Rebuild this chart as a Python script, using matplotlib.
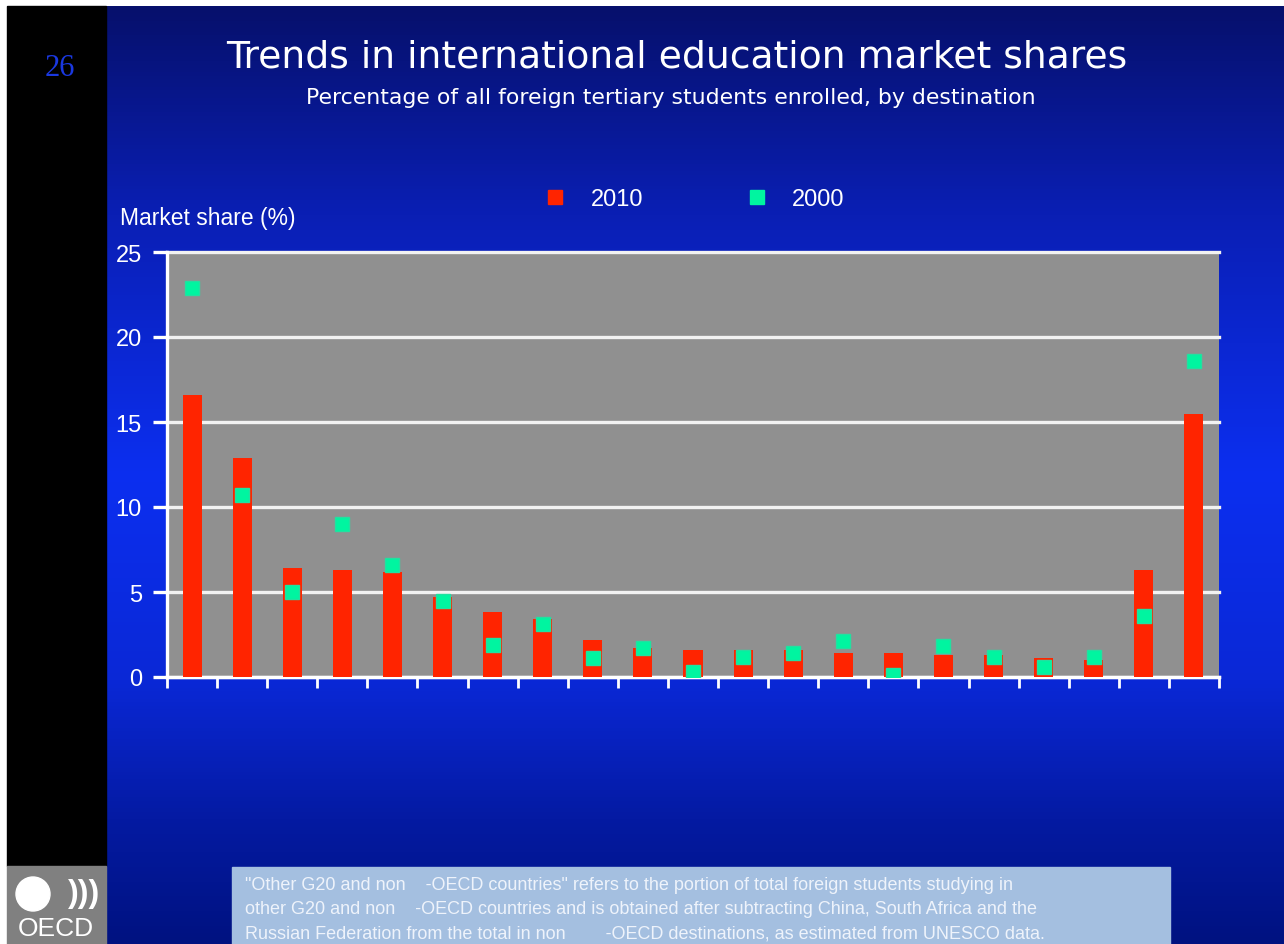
import matplotlib
matplotlib.use("Agg")
import matplotlib.pyplot as plt
import numpy as np
from matplotlib.patches import Rectangle, Ellipse
from matplotlib.lines import Line2D
from matplotlib.colors import LinearSegmentedColormap

# ---------------- data ----------------
categories = ["United States", "United Kingdom", "Australia", "Germany", "France",
              "Canada", "Russian Federation", "Japan", "Spain", "China", "Italy",
              "New Zealand", "Austria", "Korea", "South Africa", "Switzerland",
              "Netherlands", "Belgium", "Sweden", "Other OECD countries",
              "Other G20 and non-OECD countries"]
share_2010 = [16.6, 12.9, 6.4, 6.3, 6.2, 4.7, 3.8, 3.4, 2.2, 1.7, 1.6,
              1.6, 1.6, 1.4, 1.4, 1.3, 1.3, 1.1, 1.0, 6.3, 15.5]
share_2000 = [22.9, 10.7, 5.0, 9.0, 6.6, 4.5, 1.9, 3.1, 1.1, 1.7, 0.3,
              1.2, 1.4, 2.1, 0.1, 1.8, 1.2, 0.6, 1.2, 3.6, 18.6]
series_labels = ["2010", "2000"]
yticks = [0, 5, 10, 15, 20, 25]

title = "Trends in international education market shares"
subtitle = "Percentage of all foreign tertiary students enrolled, by destination"
ylabel = "Market share (%)"
note_lines = ['"Other G20 and non    -OECD countries" refers to the portion of total foreign students studying in',
              'other G20 and non    -OECD countries and is obtained after subtracting China, South Africa and the',
              'Russian Federation from the total in non        -OECD destinations, as estimated from UNESCO data.']

W, H = 1284, 945

def fx(px):
    return px / W

def fy(py):
    return 1 - py / H

sans = "Liberation Sans"

fig = plt.figure(figsize=(W / 100, H / 100), dpi=100)
fig.patch.set_facecolor("white")

# background gradient
bg = fig.add_axes([0, 0, 1, 1], zorder=-10)
cmap = LinearSegmentedColormap.from_list("bg", [
    (0.0, "#06106c"), (0.22, "#0a1fb4"), (0.5, "#0c2ff0"),
    (0.72, "#0a28d6"), (0.87, "#041aa2"), (1.0, "#001280")])
grad = np.linspace(0, 1, 256).reshape(-1, 1)
bg.imshow(grad, aspect="auto", cmap=cmap, extent=[fx(7), 1, 0, fy(7)])
bg.set_xlim(0, 1)
bg.set_ylim(0, 1)
bg.axis("off")

# left black strip and OECD logo box
fig.add_artist(Rectangle((fx(7), fy(867)), fx(106) - fx(7), fy(7) - fy(867),
                         transform=fig.transFigure, color="black", zorder=-5))
fig.add_artist(Rectangle((fx(7), 0), fx(106) - fx(7), fy(867),
                         transform=fig.transFigure, color="#808080", zorder=-5))
fig.add_artist(Ellipse((fx(33), fy(895)), 34 / W, 34 / H, transform=fig.transFigure,
                       color="white", zorder=-4))
fig.text(fx(84), fy(894), ")))", color="white", fontsize=23, fontweight="bold",
         ha="center", va="center", family=sans)
fig.text(fx(56), fy(929), "OECD", color="white", fontsize=19, ha="center",
         va="center", family=sans)

# page number
fig.text(fx(60), fy(68), "26", color="#1a38e0", fontsize=22, ha="center",
         va="center", family="Liberation Serif")

# titles
fig.text(fx(677), fy(58), title, color="white", fontsize=27.2, ha="center", va="center")
fig.text(fx(671), fy(98), subtitle, color="white", fontsize=15.8, ha="center", va="center")
fig.text(fx(120), fy(218), ylabel, color="white", fontsize=16.5, ha="left",
         va="center", family=sans)

# main axes
ax = fig.add_axes([fx(167), fy(678), fx(1219) - fx(167), (678 - 253) / H])
ax.set_facecolor("#909090")
x = np.arange(len(categories))
ax.bar(x, share_2010, width=0.38, color="#ff2400", zorder=3, label=series_labels[0])
ax.plot(x, share_2000, linestyle="none", marker="s", markersize=10,
        color="#00f5a0", markeredgecolor="#22e0a0", zorder=4, label=series_labels[1])
ax.set_xlim(-0.5, len(categories) - 0.5)
ax.set_ylim(0, 25)
for yv in yticks:
    ax.axhline(yv, color="#f2f2f2", lw=2.4, zorder=1, clip_on=False)
ax.set_yticks(yticks)
ax.set_xticks(np.arange(-0.5, len(categories), 1.0))
ax.set_xticklabels([])
for s in ["top", "right"]:
    ax.spines[s].set_visible(False)
ax.spines["left"].set_color("white")
ax.spines["left"].set_linewidth(2.4)
ax.spines["bottom"].set_color("white")
ax.spines["bottom"].set_linewidth(2.4)
ax.tick_params(axis="y", direction="out", length=10, width=2.4, color="white",
               labelcolor="white", labelsize=17, pad=8)
ax.tick_params(axis="x", direction="out", length=8, width=2, color="white")
for lab in ax.get_yticklabels():
    lab.set_family(sans)

# legend
handles = [Line2D([], [], linestyle="none", marker="s", markersize=10, color="#ff2400"),
           Line2D([], [], linestyle="none", marker="s", markersize=10, color="#00f5a0")]
leg = fig.legend(handles, series_labels, loc="center left",
                 bbox_to_anchor=(fx(546), fy(200)), ncol=2, frameon=False,
                 handlelength=0.8, handletextpad=1.1, columnspacing=4.4,
                 borderpad=0, borderaxespad=0, prop={"family": sans, "size": 17})
for t in leg.get_texts():
    t.set_color("white")

# footnote box
fig.add_artist(Rectangle((fx(232), 0), fx(1170) - fx(232), fy(868),
                         transform=fig.transFigure, color="#a4bfe0", zorder=1))
for i, line in enumerate(note_lines):
    fig.text(fx(245), fy(886 + 24 * i), line, color="#eef3fb", fontsize=13,
             ha="left", va="center", family=sans, zorder=2)

fig.savefig("out.png", dpi=100)
